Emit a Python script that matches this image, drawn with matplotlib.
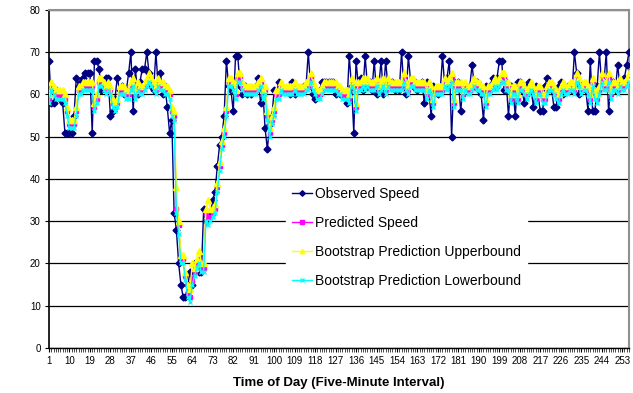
import matplotlib
matplotlib.use("Agg")
import matplotlib.pyplot as plt
from matplotlib.ticker import MultipleLocator

plt.rcParams['font.family'] = ['Liberation Sans', 'DejaVu Sans']

# five-minute intervals 1..256
intervals = list(range(1, 257))

observed = [
    68, 58, 58, 61, 60, 59, 58, 51, 51, 51,
    51, 55, 64, 62, 63, 64, 65, 65, 65, 51,
    68, 68, 66, 61, 63, 64, 64, 55, 56, 59,
    64, 61, 62, 60, 61, 65, 70, 56, 66, 60,
    63, 66, 66, 70, 65, 62, 61, 70, 62, 65,
    60, 62, 57, 51, 54, 32, 28, 20, 15, 12,
    12, 15, 18, 15, 20, 19, 18, 18, 33, 30,
    31, 32, 35, 37, 43, 48, 50, 55, 68, 62,
    61, 56, 69, 69, 62, 60, 62, 60, 61, 60,
    61, 62, 64, 58, 61, 52, 47, 53, 55, 61,
    60, 63, 61, 61, 61, 61, 60, 63, 60, 61,
    61, 61, 62, 62, 70, 62, 60, 59, 60, 61,
    63, 63, 63, 63, 63, 63, 60, 61, 60, 60,
    60, 58, 69, 62, 51, 68, 62, 64, 61, 69,
    62, 63, 61, 68, 60, 62, 68, 60, 68, 62,
    62, 63, 61, 62, 61, 70, 62, 60, 69, 63,
    62, 63, 61, 62, 63, 58, 63, 61, 55, 62,
    61, 60, 61, 69, 62, 64, 68, 50, 63, 62,
    63, 56, 62, 61, 61, 62, 67, 62, 63, 61,
    60, 54, 62, 61, 62, 64, 62, 64, 68, 68,
    61, 63, 55, 62, 61, 55, 63, 63, 61, 58,
    62, 63, 61, 57, 62, 60, 56, 56, 62, 64,
    62, 61, 57, 57, 62, 63, 60, 61, 62, 62,
    61, 70, 65, 60, 62, 62, 61, 56, 68, 56,
    56, 62, 70, 62, 63, 70, 56, 62, 63, 61,
    67, 62, 62, 64, 67, 70,
]

predicted = [
    59, 62, 61, 60, 60, 60, 60, 59, 56, 53,
    53, 53, 56, 61, 61, 62, 62, 62, 62, 62,
    57, 59, 63, 63, 62, 61, 62, 61, 58, 57,
    58, 61, 61, 61, 60, 60, 62, 63, 60, 62,
    61, 61, 62, 63, 64, 63, 62, 61, 63, 62,
    62, 61, 61, 60, 56, 55, 33, 29, 21, 21,
    17, 13, 12, 16, 18, 20, 21, 19, 19, 32,
    31, 31, 32, 33, 38, 43, 48, 51, 56, 63,
    63, 62, 60, 64, 64, 62, 61, 61, 61, 61,
    61, 61, 62, 63, 60, 61, 55, 51, 54, 56,
    60, 60, 62, 61, 61, 61, 61, 61, 62, 61,
    61, 61, 61, 62, 62, 64, 62, 61, 60, 60,
    61, 62, 62, 62, 62, 62, 62, 61, 61, 60,
    60, 60, 59, 63, 62, 57, 62, 62, 63, 62,
    63, 62, 62, 62, 63, 61, 62, 63, 61, 63,
    62, 62, 62, 62, 62, 62, 64, 62, 61, 63,
    63, 62, 62, 62, 62, 62, 60, 62, 61, 58,
    61, 61, 61, 61, 63, 62, 63, 64, 58, 62,
    62, 62, 60, 62, 61, 61, 62, 63, 62, 62,
    61, 61, 58, 61, 61, 62, 63, 62, 63, 64,
    64, 62, 62, 59, 61, 61, 59, 62, 62, 61,
    60, 61, 62, 61, 59, 61, 61, 59, 59, 61,
    62, 62, 61, 60, 59, 61, 62, 61, 61, 62,
    62, 61, 64, 63, 61, 62, 62, 61, 59, 63,
    60, 59, 61, 64, 62, 62, 64, 60, 62, 62,
    61, 63, 62, 62, 63, 64,
]

upper = [
    60, 63, 62, 61, 61, 61, 61, 60, 57, 54,
    54, 54, 57, 62, 62, 63, 63, 63, 63, 63,
    58, 60, 64, 64, 63, 62, 63, 62, 59, 58,
    59, 62, 62, 62, 61, 61, 63, 64, 61, 63,
    62, 62, 63, 64, 65, 64, 63, 62, 64, 63,
    63, 62, 62, 61, 57, 56, 38, 30, 22, 22,
    18, 15, 14, 20, 19, 21, 23, 20, 20, 33,
    35, 33, 33, 34, 39, 44, 49, 52, 57, 64,
    64, 63, 61, 65, 65, 63, 62, 62, 62, 62,
    62, 62, 63, 64, 61, 62, 56, 52, 55, 57,
    61, 61, 63, 62, 62, 62, 62, 62, 63, 62,
    62, 62, 62, 63, 63, 65, 63, 62, 61, 61,
    62, 63, 63, 63, 63, 63, 63, 62, 62, 61,
    61, 61, 60, 64, 63, 58, 63, 63, 64, 63,
    64, 63, 63, 63, 64, 62, 63, 64, 62, 64,
    63, 63, 63, 63, 63, 63, 65, 63, 62, 64,
    64, 63, 63, 63, 63, 63, 61, 63, 62, 59,
    62, 62, 62, 62, 64, 63, 64, 65, 59, 63,
    63, 63, 61, 63, 62, 62, 63, 64, 63, 63,
    62, 62, 59, 62, 62, 63, 64, 63, 64, 65,
    65, 63, 63, 60, 62, 62, 60, 63, 63, 62,
    61, 62, 63, 62, 60, 62, 62, 60, 60, 62,
    63, 63, 62, 61, 60, 62, 63, 62, 62, 63,
    63, 62, 65, 64, 62, 63, 63, 62, 60, 64,
    61, 60, 62, 65, 63, 63, 65, 61, 63, 63,
    62, 64, 63, 63, 64, 65,
]

lower = [
    58, 61, 60, 59, 59, 59, 59, 58, 55, 52,
    52, 52, 55, 60, 60, 61, 61, 61, 61, 61,
    56, 58, 62, 62, 61, 60, 61, 60, 57, 56,
    57, 60, 60, 60, 59, 59, 61, 62, 59, 61,
    60, 60, 61, 62, 63, 62, 61, 60, 62, 61,
    61, 60, 60, 59, 55, 54, 32, 27, 20, 20,
    16, 12, 11, 15, 17, 19, 20, 18, 18, 30,
    29, 30, 31, 32, 37, 42, 47, 50, 55, 62,
    62, 61, 59, 63, 63, 61, 60, 60, 60, 60,
    60, 60, 61, 62, 59, 60, 54, 50, 53, 55,
    59, 59, 61, 60, 60, 60, 60, 60, 61, 60,
    60, 60, 60, 61, 61, 63, 61, 60, 59, 59,
    60, 61, 61, 61, 61, 61, 61, 60, 60, 59,
    59, 59, 58, 62, 61, 56, 61, 61, 62, 61,
    62, 61, 61, 61, 62, 60, 61, 62, 60, 62,
    61, 61, 61, 61, 61, 61, 63, 61, 60, 62,
    62, 61, 61, 61, 61, 61, 59, 61, 60, 57,
    60, 60, 60, 60, 62, 61, 62, 63, 57, 61,
    61, 61, 59, 61, 60, 60, 61, 62, 61, 61,
    60, 60, 57, 60, 60, 61, 62, 61, 62, 63,
    63, 61, 61, 58, 60, 60, 58, 61, 61, 60,
    59, 60, 61, 60, 58, 60, 60, 58, 58, 60,
    61, 61, 60, 59, 58, 60, 61, 60, 60, 61,
    61, 60, 63, 62, 60, 61, 61, 60, 58, 62,
    59, 58, 60, 63, 61, 61, 63, 59, 61, 61,
    60, 62, 61, 61, 62, 63,
]

xtick_labels = list(range(1, 257, 9))

fig = plt.figure(figsize=(6.33, 3.93), dpi=100)
ax = fig.add_axes([0.0774, 0.1145, 0.9163, 0.8601])

ax.plot(intervals, observed, color='#000080', lw=1, marker='D', ms=3.5, label='Observed Speed', zorder=3)
ax.plot(intervals, predicted, color='#FF00FF', lw=1, marker='s', ms=3.5, label='Predicted Speed', zorder=4)
ax.plot(intervals, upper, color='#FFFF00', lw=1, marker='^', ms=4, label='Bootstrap Prediction Upperbound', zorder=5)
ax.plot(intervals, lower, color='#00FFFF', lw=1, marker='x', ms=3.5, mew=1, label='Bootstrap Prediction Lowerbound', zorder=6)

ax.set_xlim(1, 256)
ax.set_ylim(0, 80)
ax.yaxis.set_major_locator(MultipleLocator(10))
ax.set_xticks(xtick_labels)
ax.set_xticklabels([str(v) for v in xtick_labels])
ax.xaxis.set_minor_locator(MultipleLocator(1))
ax.tick_params(axis='x', which='major', length=3, labelsize=7, pad=3, color='black')
ax.tick_params(axis='x', which='minor', length=3, width=0.5)
ax.tick_params(axis='y', which='major', length=3, labelsize=7, pad=3)

ax.grid(axis='y', color='black', lw=0.9, zorder=0)
for side in ['top', 'right']:
    ax.spines[side].set_color('#909090')
    ax.spines[side].set_linewidth(1.5)
ax.spines['left'].set_linewidth(1.2)
ax.spines['bottom'].set_linewidth(1.0)

ax.set_xlabel('Time of Day (Five-Minute Interval)', fontsize=9.5, fontweight='bold', labelpad=8)

leg = ax.legend(loc='upper left', bbox_to_anchor=(279 / 633, 1 - 174 / 393),
                bbox_transform=fig.transFigure, fontsize=10, frameon=True,
                fancybox=False, framealpha=1, edgecolor='white', facecolor='white',
                handlelength=1.5, handletextpad=0.2, labelspacing=1.1,
                borderpad=0.4, markerscale=0.8)
leg.set_zorder(10)

fig.savefig('out.png', dpi=100)
